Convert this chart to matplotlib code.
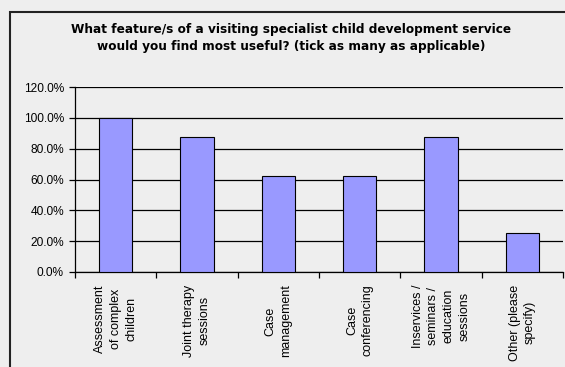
import matplotlib
matplotlib.use("Agg")
import matplotlib.pyplot as plt
from matplotlib.patches import Rectangle
from matplotlib.ticker import FuncFormatter
import numpy as np

categories = [
    "Assessment\nof complex\nchildren",
    "Joint therapy\nsessions",
    "Case\nmanagement",
    "Case\nconferencing",
    "Inservices /\nseminars /\neducation\nsessions",
    "Other (please\nspecify)",
]
values = [100.0, 87.5, 62.5, 62.5, 87.5, 25.0]
yticks = [0, 20, 40, 60, 80, 100, 120]

title = ("What feature/s of a visiting specialist child development service\n"
         "would you find most useful? (tick as many as applicable)")

plt.rcParams['font.family'] = ['Liberation Sans', 'DejaVu Sans']
bg = '#eeeeee'

W, H = 565, 367
fig = plt.figure(figsize=(W / 100, H / 100), dpi=100, facecolor=bg)

# outer chart border
fig.patches.append(Rectangle((10 / W, -0.2), 2, 1.2 - 12 / H, transform=fig.transFigure,
                             fill=False, edgecolor='#222222', linewidth=1.5))

ax = fig.add_axes([75 / W, (H - 272) / H, (563 - 75) / W, (272 - 87) / H])
ax.set_facecolor(bg)

x = np.arange(len(categories))
ax.bar(x, values, width=0.41, color='#9999ff', edgecolor='black', linewidth=0.8, zorder=3)

ax.set_xlim(-0.5, len(categories) - 0.5)
ax.set_ylim(0, 120)
ax.set_yticks(yticks)
ax.yaxis.set_major_formatter(FuncFormatter(lambda v, p: f"{v:.1f}%"))
ax.grid(axis='y', color='black', linewidth=0.9, zorder=1)
ax.set_axisbelow(True)

ax.set_xticks(np.arange(len(categories) + 1) - 0.5)
ax.set_xticklabels([])
ax.set_xticks(x, minor=True)
ax.set_xticklabels(categories, minor=True, rotation=90, fontsize=9.0,
                   ha='center', va='top', multialignment='center', linespacing=1.39)
ax.tick_params(axis='x', which='minor', length=0, pad=9)
ax.tick_params(axis='x', which='major', length=4, direction='out', width=0.9)
ax.tick_params(axis='y', length=4, direction='out', labelsize=8.6, width=0.9, pad=4)

for s in ['top', 'right']:
    ax.spines[s].set_visible(False)
for s in ['left', 'bottom']:
    ax.spines[s].set_linewidth(0.9)

fig.text(291 / W, 1 - 38 / H, title, ha='center', va='center', fontsize=8.7,
         fontweight='bold', family=['DejaVu Sans'], linespacing=1.45)

fig.savefig('out.png', dpi=100, facecolor=bg)
